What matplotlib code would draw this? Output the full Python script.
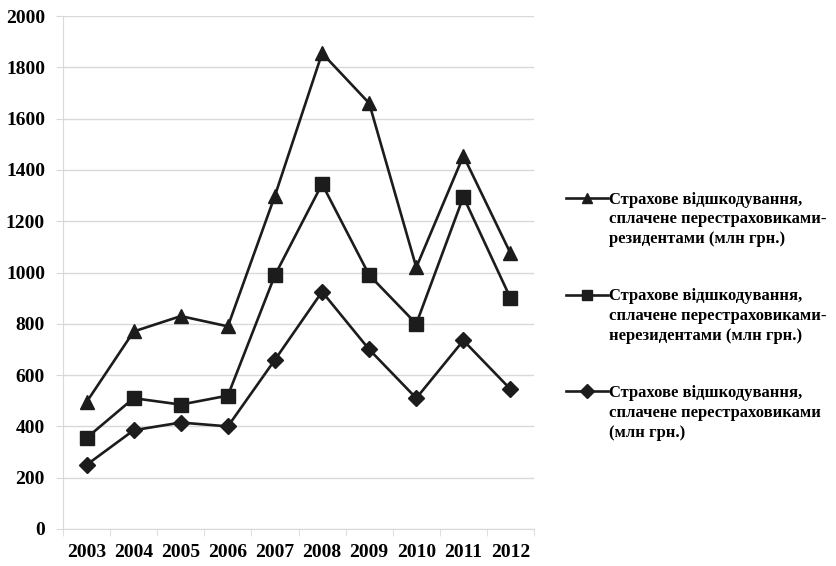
import matplotlib
matplotlib.use("Agg")
import matplotlib.pyplot as plt
import numpy as np
from matplotlib.legend_handler import HandlerLine2D

plt.rcParams['font.family'] = ['Liberation Serif', 'DejaVu Serif']
plt.rcParams['font.weight'] = 'bold'

years = ["2003", "2004", "2005", "2006", "2007", "2008", "2009", "2010", "2011", "2012"]

rezydenty =    [495, 770, 830, 790, 1300, 1855, 1660, 1020, 1455, 1075]
nerezydenty =  [355, 510, 485, 520, 990, 1345, 990, 800, 1295, 900]
vsogo =        [250, 385, 415, 400, 660, 925, 700, 510, 735, 545]

labels = [
    "Страхове відшкодування,\nсплачене перестраховиками-\nрезидентами (млн грн.)",
    "Страхове відшкодування,\nсплачене перестраховиками-\nнерезидентами (млн грн.)",
    "Страхове відшкодування,\nсплачене перестраховиками\n(млн грн.)",
]

line_col = "#1c1c1c"
grid_col = "#d9d9d9"
fs = 14
leg_fs = 12
leg_linespacing = 1.3


class FirstLineHandler(HandlerLine2D):
    # put the legend sample next to the first line of a 3-line label
    def create_artists(self, legend, orig_handle, xdescent, ydescent,
                       width, height, fontsize, trans):
        arts = super().create_artists(legend, orig_handle, xdescent, ydescent,
                                      width, height, fontsize, trans)
        for a in arts:
            a.set_ydata(np.asarray(a.get_ydata()) + leg_linespacing * fontsize)
        return arts


fig = plt.figure(figsize=(8.36, 5.66), dpi=100)
ax = fig.add_axes([0.0754, 0.0654, 0.5634, 0.9063])

ind = np.arange(len(years))
l1, = ax.plot(ind, rezydenty, color=line_col, lw=1.9, marker="^", markersize=10)
l2, = ax.plot(ind, nerezydenty, color=line_col, lw=1.9, marker="s", markersize=9.5)
l3, = ax.plot(ind, vsogo, color=line_col, lw=1.9, marker="D", markersize=8)

ax.set_ylim(0, 2000)
ax.set_xlim(-0.5, len(years) - 0.5)
ax.set_yticks(np.arange(0, 2001, 200))
ax.yaxis.grid(color=grid_col, lw=1)
ax.set_axisbelow(True)

ax.set_xticks(ind)
ax.set_xticklabels(years, fontsize=fs, fontweight='bold')
ax.set_xticks(np.arange(-0.5, len(years)), minor=True)
ax.tick_params(axis='x', which='major', length=0, pad=11)
ax.tick_params(axis='x', which='minor', length=5, color=grid_col, direction='out')
ax.tick_params(axis='y', length=5, color=grid_col, pad=8, labelsize=fs)

for side in ['top', 'right']:
    ax.spines[side].set_visible(False)
for side in ['left', 'bottom']:
    ax.spines[side].set_color(grid_col)

leg = fig.legend([l1, l2, l3], labels, loc='upper left',
                 bbox_to_anchor=(0.659, 0.688), frameon=False,
                 fontsize=leg_fs, handlelength=2.5, handletextpad=0.1,
                 labelspacing=2.5,
                 handler_map={matplotlib.lines.Line2D: FirstLineHandler(numpoints=1)})
for t in leg.get_texts():
    t.set_linespacing(leg_linespacing)
for h in leg.legend_handles:
    h.set_markersize(7)

fig.savefig("out.png", dpi=100)
